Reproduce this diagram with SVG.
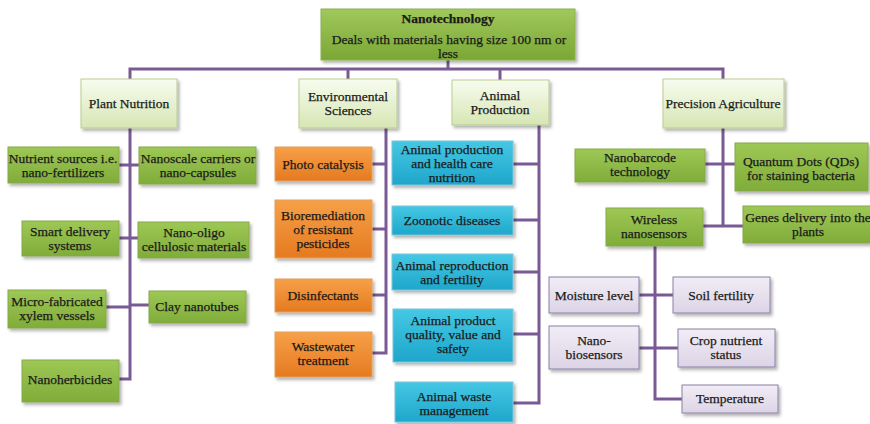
<svg xmlns="http://www.w3.org/2000/svg" width="870" height="424" viewBox="0 0 870 424">
<defs>
<linearGradient id="gTop" x1="0" y1="0" x2="0" y2="1"><stop offset="0" stop-color="#a0c85c"/><stop offset="1" stop-color="#7aa734"/></linearGradient>
<linearGradient id="gL1" x1="0" y1="0" x2="0" y2="1"><stop offset="0" stop-color="#f8fcef"/><stop offset="1" stop-color="#d6e6b4"/></linearGradient>
<linearGradient id="gGreen" x1="0" y1="0" x2="0" y2="1"><stop offset="0" stop-color="#9ec855"/><stop offset="1" stop-color="#80ac3a"/></linearGradient>
<linearGradient id="gOrange" x1="0" y1="0" x2="0" y2="1"><stop offset="0" stop-color="#f7a048"/><stop offset="1" stop-color="#e57a20"/></linearGradient>
<linearGradient id="gBlue" x1="0" y1="0" x2="0" y2="1"><stop offset="0" stop-color="#45c8e4"/><stop offset="1" stop-color="#1ea6cb"/></linearGradient>
<linearGradient id="gLav" x1="0" y1="0" x2="0" y2="1"><stop offset="0" stop-color="#f1edf6"/><stop offset="1" stop-color="#dcd4e6"/></linearGradient>
<filter id="sh" x="-10%" y="-10%" width="130%" height="140%"><feDropShadow dx="2" dy="2.5" stdDeviation="1.5" flood-color="#000" flood-opacity="0.3"/></filter>
</defs>
<style>
text{font-family:"Liberation Serif","Times New Roman",serif;font-size:13.5px;fill:#1a1a1a;stroke:#1a1a1a;stroke-width:0.25;text-anchor:middle}
.b{font-weight:bold}
rect{filter:url(#sh)}
.top{fill:url(#gTop);stroke:#8cb04e;stroke-width:1}
.l1{fill:url(#gL1);stroke:#b9cd90;stroke-width:1}
.gr{fill:url(#gGreen);stroke:#86a84a;stroke-width:1}
.or{fill:url(#gOrange);stroke:#e0a060;stroke-width:1}
.bl{fill:url(#gBlue);stroke:#7cc4d6;stroke-width:1}
.lv{fill:url(#gLav);stroke:#8d80a6;stroke-width:1}
.c{fill:none;stroke:#7a5a94;stroke-width:3}
</style>
<rect width="870" height="424" fill="#ffffff" style="filter:none"/>
<g id="connectors">
<path class="c" d="M448 60V69M130 79V69H723V79M348 69V79M500 69V80"/>
<path class="c" d="M130 128V379H119M119 165H139M119 238H138M106 307H130M130 305H149"/>
<path class="c" d="M386 128V353H372M372 164H386M372 229H386M372 295H386"/>
<path class="c" d="M539 125V403H513M513 164H539M513 220H539M513 272H539M513 334H539"/>
<path class="c" d="M723 128V226M705 164H735M703 226H743"/>
<path class="c" d="M655 246V399H682M639 295H673M639 348H678"/>
</g>
<g id="nanotech"><rect class="top" x="321" y="9" width="254" height="51"/><text class="b" x="448" y="23">Nanotechnology</text><text x="449" y="44">Deals with materials having size 100 nm or</text><text x="448" y="58">less</text></g>
<g id="plant-nutrition"><rect class="l1" x="81" y="79" width="96" height="49"/><text x="129" y="108">Plant Nutrition</text></g>
<g id="env-sciences"><rect class="l1" x="299" y="79" width="98" height="49"/><text x="348" y="101">Environmental</text><text x="348" y="115">Sciences</text></g>
<g id="animal-production"><rect class="l1" x="452" y="80" width="97" height="45"/><text x="500" y="100">Animal</text><text x="500" y="114">Production</text></g>
<g id="precision-agriculture"><rect class="l1" x="663" y="79" width="121" height="49"/><text x="723" y="108">Precision Agriculture</text></g>

<g id="nutrient-sources"><rect class="gr" x="8" y="147" width="111" height="36"/><text x="63" y="163">Nutrient sources i.e.</text><text x="63" y="177">nano-fertilizers</text></g>
<g id="nanoscale-carriers"><rect class="gr" x="139" y="147" width="117" height="37"/><text x="198" y="163">Nanoscale carriers or</text><text x="198" y="177">nano-capsules</text></g>
<g id="smart-delivery"><rect class="gr" x="22" y="221" width="97" height="35"/><text x="70" y="236">Smart delivery</text><text x="70" y="250">systems</text></g>
<g id="nano-oligo"><rect class="gr" x="138" y="222" width="111" height="36"/><text x="194" y="237">Nano-oligo</text><text x="194" y="251">cellulosic materials</text></g>
<g id="micro-fabricated"><rect class="gr" x="8" y="290" width="98" height="38"/><text x="57" y="306">Micro-fabricated</text><text x="57" y="320">xylem vessels</text></g>
<g id="clay-nanotubes"><rect class="gr" x="149" y="291" width="97" height="32"/><text x="197" y="311">Clay nanotubes</text></g>
<g id="nanoherbicides"><rect class="gr" x="22" y="360" width="97" height="42"/><text x="70" y="384">Nanoherbicides</text></g>

<g id="photo-catalysis"><rect class="or" x="275" y="147" width="97" height="34"/><text x="323" y="169">Photo catalysis</text></g>
<g id="bioremediation"><rect class="or" x="275" y="200" width="97" height="58"/><text x="323" y="220">Bioremediation</text><text x="323" y="234">of resistant</text><text x="323" y="248">pesticides</text></g>
<g id="disinfectants"><rect class="or" x="275" y="279" width="97" height="33"/><text x="323" y="300">Disinfectants</text></g>
<g id="wastewater"><rect class="or" x="275" y="332" width="97" height="45"/><text x="323" y="351">Wastewater</text><text x="323" y="365">treatment</text></g>

<g id="animal-health"><rect class="bl" x="392" y="141" width="121" height="44"/><text x="452" y="154">Animal production</text><text x="452" y="168">and health care</text><text x="452" y="182">nutrition</text></g>
<g id="zoonotic"><rect class="bl" x="392" y="206" width="121" height="29"/><text x="452" y="225">Zoonotic diseases</text></g>
<g id="animal-reproduction"><rect class="bl" x="392" y="254" width="121" height="36"/><text x="452" y="270">Animal reproduction</text><text x="452" y="284">and fertility</text></g>
<g id="animal-quality"><rect class="bl" x="393" y="309" width="120" height="53"/><text x="453" y="325">Animal product</text><text x="453" y="339">quality, value and</text><text x="453" y="353">safety</text></g>
<g id="animal-waste"><rect class="bl" x="395" y="382" width="118" height="40"/><text x="454" y="401">Animal waste</text><text x="454" y="415">management</text></g>

<g id="nanobarcode"><rect class="gr" x="575" y="149" width="130" height="33"/><text x="640" y="162">Nanobarcode</text><text x="640" y="176">technology</text></g>
<g id="quantum-dots"><rect class="gr" x="735" y="143" width="133" height="48"/><text x="801" y="166">Quantum Dots (QDs)</text><text x="801" y="180">for staining bacteria</text></g>
<g id="wireless-nanosensors"><rect class="gr" x="606" y="208" width="97" height="38"/><text x="654" y="224">Wireless</text><text x="654" y="238">nanosensors</text></g>
<g id="genes-delivery"><rect class="gr" x="743" y="206" width="140" height="37"/><text x="808" y="222">Genes delivery into the</text><text x="808" y="236">plants</text></g>

<g id="moisture-level"><rect class="lv" x="549" y="277" width="90" height="36"/><text x="594" y="300">Moisture level</text></g>
<g id="soil-fertility"><rect class="lv" x="673" y="277" width="97" height="36"/><text x="721" y="300">Soil fertility</text></g>
<g id="nano-biosensors"><rect class="lv" x="549" y="326" width="90" height="43"/><text x="594" y="345">Nano-</text><text x="594" y="359">biosensors</text></g>
<g id="crop-nutrient"><rect class="lv" x="678" y="329" width="97" height="38"/><text x="726" y="345">Crop nutrient</text><text x="726" y="359">status</text></g>
<g id="temperature"><rect class="lv" x="682" y="385" width="96" height="28"/><text x="730" y="403">Temperature</text></g>
</svg>
